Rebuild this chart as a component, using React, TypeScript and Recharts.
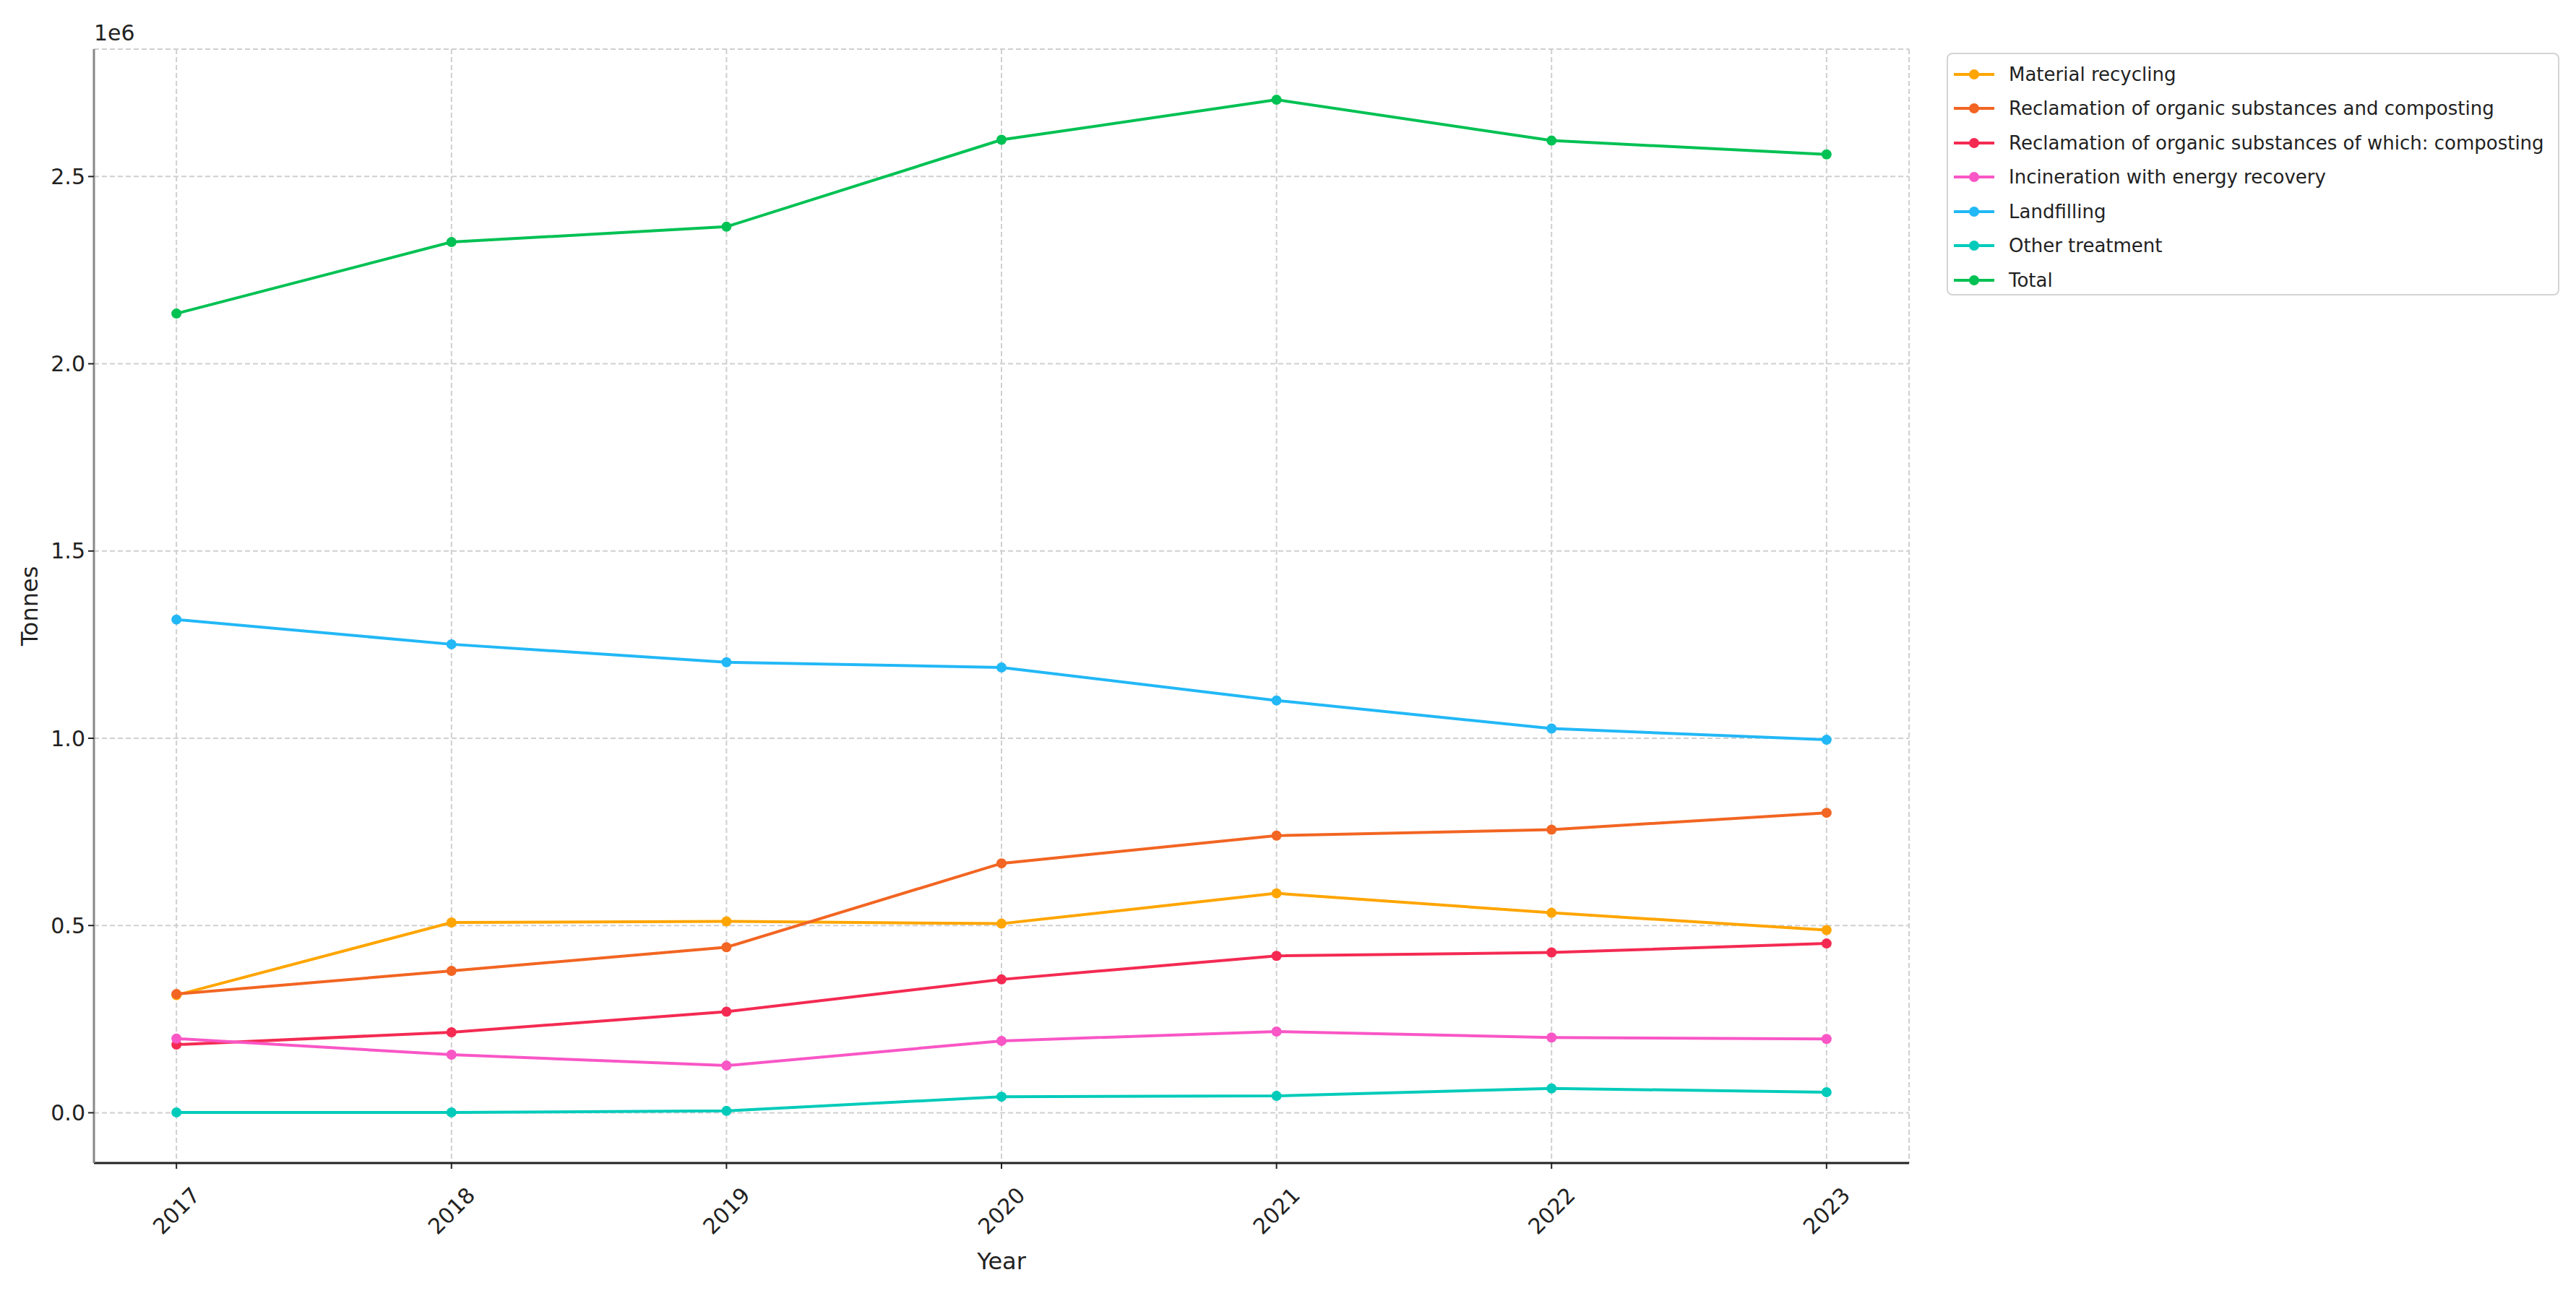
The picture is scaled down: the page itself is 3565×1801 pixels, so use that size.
import React from "react"
import { LineChart, Line, XAxis, YAxis, CartesianGrid } from "recharts"

const years = [2017, 2018, 2019, 2020, 2021, 2022, 2023]

const materialRecycling = [314000, 508000, 511000, 505000, 586000, 534000, 488000]
const reclamationComposting = [317000, 379000, 442000, 666000, 740000, 756000, 801000]
const reclamationOfWhichComposting = [182000, 215000, 270000, 356000, 419000, 428000, 452000]
const incineration = [198000, 155000, 126000, 192000, 217000, 201000, 197000]
const landfilling = [1317000, 1251000, 1203000, 1189000, 1101000, 1026000, 996000]
const otherTreatment = [1000, 1000, 5000, 43000, 45000, 65000, 55000]
const total = [2134000, 2325000, 2366000, 2598000, 2705000, 2596000, 2559000]

const yTicks = [0, 500000, 1000000, 1500000, 2000000, 2500000]

const series = [
  { key: "material", name: "Material recycling", color: "#FFA500", values: materialRecycling },
  { key: "reclamation", name: "Reclamation of organic substances and composting", color: "#F26522", values: reclamationComposting },
  { key: "composting", name: "Reclamation of organic substances of which: composting", color: "#F42A52", values: reclamationOfWhichComposting },
  { key: "incineration", name: "Incineration with energy recovery", color: "#F956C6", values: incineration },
  { key: "landfilling", name: "Landfilling", color: "#22B8F6", values: landfilling },
  { key: "other", name: "Other treatment", color: "#00CBBA", values: otherTreatment },
  { key: "total", name: "Total", color: "#00C153", values: total },
]

const data = years.map((year, i) => {
  const row: Record<string, number> = { year }
  series.forEach((s) => {
    row[s.key] = s.values[i]
  })
  return row
})

// matplotlib-like 5% margins
const allValues = series.flatMap((s) => s.values)
const yMin = Math.min(...allValues)
const yMax = Math.max(...allValues)
const yPad = (yMax - yMin) * 0.05
const xPad = (years[years.length - 1] - years[0]) * 0.05

const FONT = "'DejaVu Sans', sans-serif"

const XTick = (props: any) => {
  const { x, y, payload } = props
  const cy = y + 58
  return (
    <text
      x={x}
      y={cy}
      textAnchor="middle"
      dominantBaseline="central"
      transform={`rotate(-45, ${x}, ${cy})`}
      fontSize={30}
      fontFamily={FONT}
      fill="#222"
    >
      {payload.value}
    </text>
  )
}

const LegendBox = () => (
  <div
    style={{
      position: "absolute",
      left: 2694,
      top: 73,
      width: 844,
      height: 328,
      border: "2px solid #d4d4d4",
      borderRadius: 8,
      background: "#fff",
      fontFamily: FONT,
      fontSize: 26,
      color: "#222",
      paddingTop: 4,
      boxSizing: "content-box",
    }}
  >
    {series.map((s) => (
      <div key={s.key} style={{ display: "flex", alignItems: "center", height: 47.5, whiteSpace: "nowrap" }}>
        <svg width={78} height={30} style={{ marginLeft: 6 }}>
          <line x1={2} y1={15} x2={58} y2={15} stroke={s.color} strokeWidth={4} />
          <circle cx={30} cy={15} r={7} fill={s.color} />
        </svg>
        <span>{s.name}</span>
      </div>
    ))}
  </div>
)

export default function App() {
  return (
    <div style={{ position: "absolute", left: 0, top: 0, width: 3565, height: 1801, background: "#fff" }}>
      <LineChart
        width={3565}
        height={1801}
        data={data}
        margin={{ top: 68, right: 923, bottom: 0, left: 0 }}
      >
        <CartesianGrid stroke="#cfcfcf" strokeWidth={2} strokeDasharray="7 4" />
        <XAxis
          dataKey="year"
          type="number"
          domain={[years[0] - xPad, years[years.length - 1] + xPad]}
          ticks={years}
          allowDataOverflow
          tick={<XTick />}
          tickSize={8}
          tickMargin={0}
          stroke="#222"
          strokeWidth={3}
          tickLine={{ stroke: "#222", strokeWidth: 2 }}
          height={191}
          interval={0}
        />
        <YAxis
          type="number"
          width={130}
          domain={[yMin - yPad, yMax + yPad]}
          ticks={yTicks}
          allowDataOverflow
          tickFormatter={(v) => (v / 1e6).toFixed(1)}
          tick={{ fontSize: 30, fontFamily: FONT, fill: "#222" }}
          tickSize={8}
          tickMargin={4}
          stroke="#888"
          strokeWidth={3}
          tickLine={{ stroke: "#222", strokeWidth: 2 }}
          interval={0}
        />
        {series.map((s) => (
          <Line
            key={s.key}
            dataKey={s.key}
            name={s.name}
            stroke={s.color}
            strokeWidth={4}
            dot={{ r: 7, fill: s.color, stroke: s.color, strokeWidth: 0 }}
            activeDot={false}
            isAnimationActive={false}
            type="linear"
          />
        ))}
      </LineChart>
      <LegendBox />
      <div
        style={{
          position: "absolute",
          left: 130,
          top: 28,
          fontFamily: FONT,
          fontSize: 30,
          color: "#222",
        }}
      >
        1e6
      </div>
      <div
        style={{
          position: "absolute",
          left: 41,
          top: 839,
          transform: "translate(-50%, -50%) rotate(-90deg)",
          fontFamily: FONT,
          fontSize: 32,
          color: "#222",
          whiteSpace: "nowrap",
        }}
      >
        Tonnes
      </div>
      <div
        style={{
          position: "absolute",
          left: 1386,
          top: 1746,
          transform: "translate(-50%, -50%)",
          fontFamily: FONT,
          fontSize: 32,
          color: "#222",
          whiteSpace: "nowrap",
        }}
      >
        Year
      </div>
    </div>
  )
}
